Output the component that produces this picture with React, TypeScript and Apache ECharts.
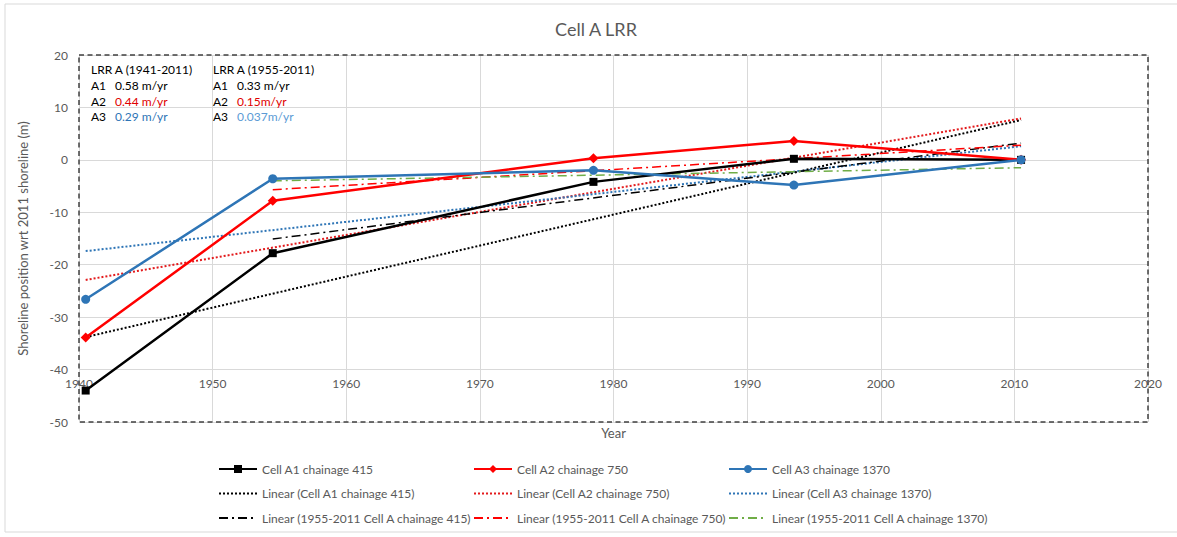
import React, { useEffect, useRef } from "react";
import * as echarts from "echarts";

// ---- data ----
const years = [1940.5, 1954.5, 1978.5, 1993.5, 2010.5];
const cellA1 = [-44.0, -17.8, -4.2, 0.2, 0];
const cellA2 = [-33.9, -7.8, 0.3, 3.6, 0];
const cellA3 = [-26.6, -3.6, -2.0, -4.8, 0];

const trendAllYears = [1940.5, 2010.5];
const trendA1 = [-33.8, 7.6];
const trendA2 = [-22.9, 7.9];
const trendA3 = [-17.4, 2.6];

const trend55Years = [1954.5, 2010.5];
const trend55A1 = [-15.1, 3.2];
const trend55A2 = [-5.7, 2.8];
const trend55A3 = [-4.0, -1.5];

const xTicks = { min: 1940, max: 2020, interval: 10 };
const yTicks = { min: -50, max: 20, interval: 10 };

const names = {
  a1: "Cell A1 chainage 415",
  a2: "Cell A2 chainage 750",
  a3: "Cell A3 chainage 1370",
  l1: "Linear (Cell A1 chainage 415)",
  l2: "Linear (Cell A2 chainage 750)",
  l3: "Linear (Cell A3 chainage 1370)",
  m1: "Linear (1955-2011 Cell A chainage 415)",
  m2: "Linear (1955-2011 Cell A chainage 750)",
  m3: "Linear (1955-2011 Cell A chainage 1370)",
};

const lrr4111 = ["0.58 m/yr", "0.44 m/yr", "0.29 m/yr"];
const lrr5511 = ["0.33 m/yr", "0.15m/yr", "0.037m/yr"];

const pair = (xs: number[], ys: number[]) => xs.map((x, i) => [x, ys[i]]);

const FONT = "Lato, 'Liberation Sans', sans-serif";
const BLACK = "#000000";
const RED = "#ff0000";
const BLUE = "#2e75b6";
const LBLUE = "#5b9bd5";
const GREEN = "#70ad47";
const TXT = "#595959";

export default function App() {
  const ref = useRef<HTMLDivElement>(null);
  useEffect(() => {
    document.body.style.margin = "0";
    const chart = echarts.init(ref.current!, null, { renderer: "svg" });

    const dataSeries = (name: string, ys: number[], color: string, symbol: string, size: number) => ({
      name,
      type: "line",
      data: pair(years, ys),
      symbol,
      symbolSize: size,
      showSymbol: true,
      itemStyle: { color },
      lineStyle: { color, width: 2.5 },
      z: 5,
    });
    const trend = (name: string, xs: number[], ys: number[], color: string, type: any, width: number) => ({
      name,
      type: "line",
      data: pair(xs, ys),
      symbol: "none",
      itemStyle: { color },
      lineStyle: { color, width, type },
      z: 4,
    });
    const dotted = [2, 2];
    const dashDot = [9, 4, 2, 4];

    const colLeft = [218, 473, 728];
    const rowMid = [470, 494.5, 519];
    const legendGrid = [
      [names.a1, names.a2, names.a3],
      [names.l1, names.l2, names.l3],
      [names.m1, names.m2, names.m3],
    ];
    const legends: any[] = [];
    legendGrid.forEach((row, r) =>
      row.forEach((n, c) =>
        legends.push({
          left: colLeft[c],
          top: rowMid[r] - 7,
          padding: 0,
          itemWidth: 38,
          itemHeight: 10,
          data: [r === 0 ? { name: n } : { name: n, itemStyle: { opacity: 0 } }],
          textStyle: { color: TXT, fontSize: 12, fontFamily: FONT, padding: [0, 0, 0, 0] },
          selectedMode: false,
        })
      )
    );

    const rich = {
      h: { fill: "#000", fontSize: 12, fontFamily: FONT, lineHeight: 15.8 },
      l: { fill: "#000", fontSize: 12, fontFamily: FONT, lineHeight: 15.8, width: 24 },
      k: { fill: "#000", fontSize: 12, fontFamily: FONT, lineHeight: 15.8 },
      r: { fill: "#e00000", fontSize: 12, fontFamily: FONT, lineHeight: 15.8 },
      b: { fill: BLUE, fontSize: 12, fontFamily: FONT, lineHeight: 15.8 },
      c: { fill: LBLUE, fontSize: 12, fontFamily: FONT, lineHeight: 15.8 },
    };

    chart.setOption({
      animation: false,
      backgroundColor: "#ffffff",
      title: {
        text: "Cell A LRR",
        left: 591,
        top: 15,
        textAlign: "center",
        textStyle: { color: TXT, fontSize: 18, fontWeight: "normal", fontFamily: FONT },
      },
      grid: { left: 79, right: 29, top: 55, bottom: 115, containLabel: false },
      xAxis: {
        type: "value",
        ...xTicks,
        offset: -53,
        axisLine: { show: false, onZero: false },
        axisTick: { show: false },
        axisLabel: {
          color: TXT,
          fontSize: 12,
          fontFamily: FONT,
          margin: 8,
          formatter: (v: number) => String(v),
        },
        splitLine: { show: true, lineStyle: { color: "#d9d9d9", width: 1 } },
        name: "Year",
        nameLocation: "middle",
        nameGap: 57,
        nameTextStyle: { color: TXT, fontSize: 13, fontFamily: FONT },
      },
      yAxis: {
        type: "value",
        ...yTicks,
        axisLine: { show: false },
        axisTick: { show: false },
        axisLabel: { color: TXT, fontSize: 12, fontFamily: FONT, margin: 11 },
        splitLine: { show: true, lineStyle: { color: "#d9d9d9", width: 1 } },
        name: "Shoreline position wrt 2011 shoreline (m)",
        nameLocation: "middle",
        nameGap: 50,
        nameTextStyle: { color: TXT, fontSize: 13, fontFamily: FONT },
      },
      legend: legends,
      series: [
        dataSeries(names.a1, cellA1, BLACK, "rect", 8),
        dataSeries(names.a2, cellA2, RED, "diamond", 10),
        dataSeries(names.a3, cellA3, BLUE, "circle", 9),
        trend(names.l1, trendAllYears, trendA1, BLACK, dotted, 2),
        trend(names.l2, trendAllYears, trendA2, "#e31a1c", dotted, 2),
        trend(names.l3, trendAllYears, trendA3, BLUE, dotted, 2),
        trend(names.m1, trend55Years, trend55A1, BLACK, dashDot, 1.5),
        trend(names.m2, trend55Years, trend55A2, RED, dashDot, 1.5),
        trend(names.m3, trend55Years, trend55A3, GREEN, dashDot, 1.5),
      ],
      graphic: [
        {
          type: "rect",
          silent: true,
          z: -1,
          shape: { x: 5, y: 4, width: 1190, height: 528 },
          style: { fill: "none", stroke: "#d9d9d9", lineWidth: 1 },
        },
        {
          type: "rect",
          silent: true,
          z: 1,
          shape: { x: 79, y: 55, width: 1069, height: 367 },
          style: { fill: "none", stroke: "#404040", lineWidth: 1.5, lineDash: [5, 3.5] },
        },
        {
          type: "text",
          left: 91,
          top: 63.5,
          z: 10,
          style: {
            text: `{h|LRR A (1941-2011)}\n{l|A1}{k|${lrr4111[0]}}\n{l|A2}{r|${lrr4111[1]}}\n{l|A3}{b|${lrr4111[2]}}`,
            rich,
          },
        },
        {
          type: "text",
          left: 213,
          top: 63.5,
          z: 10,
          style: {
            text: `{h|LRR A (1955-2011)}\n{l|A1}{k|${lrr5511[0]}}\n{l|A2}{r|${lrr5511[1]}}\n{l|A3}{c|${lrr5511[2]}}`,
            rich,
          },
        },
      ],
    });
    return () => chart.dispose();
  }, []);
  return <div ref={ref} style={{ width: 1177, height: 537 }} />;
}
